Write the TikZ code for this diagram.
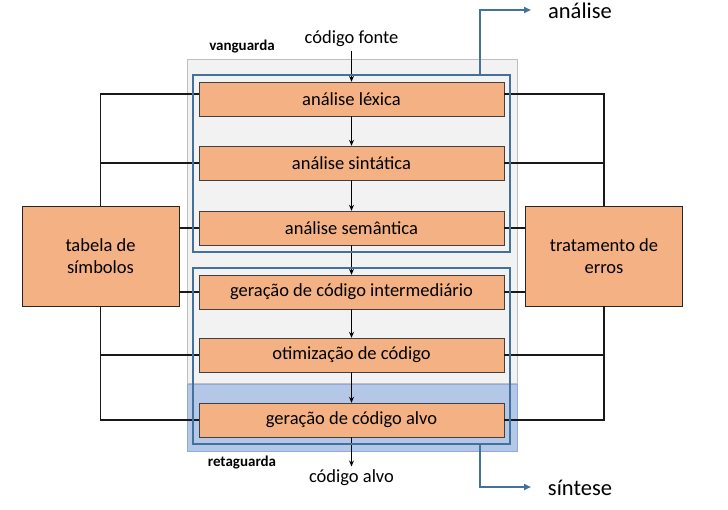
\documentclass[tikz,border=0pt]{standalone}
\usepackage{fontspec}
\setmainfont{Carlito}
\usepackage{xcolor}
\usetikzlibrary{arrows.meta,positioning,calc,fit}

\definecolor{faselaranja}{HTML}{F4B183}
\definecolor{quadroazul}{HTML}{41719C}
\definecolor{fundoazul}{HTML}{B4C7E7}
\definecolor{bordaazul}{HTML}{8FAADC}
\definecolor{fundocinza}{HTML}{F2F2F2}
\definecolor{bordacinza}{HTML}{BFBFBF}

\begin{document}
\begin{tikzpicture}[
    x=1pt,y=-1pt,
    font=\fontsize{18.5}{22}\selectfont,
    fase/.style={draw=black!75,fill=faselaranja,minimum width=305pt,minimum height=34pt,inner sep=0pt},
    lateral/.style={draw=black!85,fill=faselaranja,minimum width=157pt,minimum height=100pt,align=center,inner sep=0pt},
    fluxo/.style={-{Stealth[length=6pt,width=5pt]},line width=1pt,black},
    liga/.style={line width=1.1pt,black!90},
    quadro/.style={draw=quadroazul,line width=1.8pt,inner xsep=5.5pt,inner ysep=6.5pt},
    saida/.style={quadroazul,line width=1.8pt,-{Triangle[length=7pt,width=6pt]}},
    rotulo/.style={font=\bfseries\fontsize{15}{18}\selectfont},
    grande/.style={font=\fontsize{22.5}{26}\selectfont},
]
    \path[use as bounding box] (0,0) rectangle (728,509);
    \filldraw[fill=fundocinza,draw=bordacinza,line width=1pt] (187,59) rectangle (517,383);
    \filldraw[fill=fundoazul,draw=bordaazul,line width=1pt] (187,384) rectangle (517,451);

    % fases
    \node[fase] (lex) at (351.5,99) {análise léxica};
    \node[fase] (sin) at (351.5,163) {análise sintática};
    \node[fase] (sem) at (351.5,228) {análise semântica};
    \node[fase] (int) at (351.5,292) {geração de código intermediário};
    \node[fase] (oti) at (351.5,355) {otimização de código};
    \node[fase] (alv) at (351.5,420) {geração de código alvo};

    \node[lateral] (tab) at (100.5,256) {tabela de\\símbolos};
    \node[lateral] (err) at (604,256) {tratamento de\\erros};

    \node (fonte) at (351.5,39) {código fonte};
    \node (alvo) at (351.5,478) {código alvo};
    \node[rotulo] (vang) at (242,47) {vanguarda};
    \node[rotulo] (ret) at (242,463) {retaguarda};

    % fluxo principal
    \draw[fluxo] (fonte) -- (lex);
    \draw[fluxo] (lex) -- (sin);
    \draw[fluxo] (sin) -- (sem);
    \draw[fluxo] (sem) -- (int);
    \draw[fluxo] (int) -- (oti);
    \draw[fluxo] (oti) -- (alv);
    \draw[fluxo] (alv) -- (alvo);

    % ligacoes laterais
    \draw[liga] (tab.north) |- ([yshift=5pt]lex.west);
    \draw[liga] (tab.north |- sin.west) -- (sin.west);
    \draw[liga] (tab.east |- sem.west) -- (sem.west);
    \draw[liga] (tab.east |- int.west) -- (int.west);
    \draw[liga] (tab.south |- oti.west) -- (oti.west);
    \draw[liga] (tab.south) |- (alv.west);
    \draw[liga] (err.north) |- ([yshift=5pt]lex.east);
    \draw[liga] (err.north |- sin.east) -- (sin.east);
    \draw[liga] (err.west |- sem.east) -- (sem.east);
    \draw[liga] (err.west |- int.east) -- (int.east);
    \draw[liga] (err.south |- oti.east) -- (oti.east);
    \draw[liga] (err.south) |- (alv.east);

    % analise e sintese
    \node[quadro,fit=(lex)(sem)] (ana) {};
    \node[quadro,fit=(int)(alv)] (sint) {};
    \node[grande] (lblana) at (580,11) {análise};
    \node[grande] (lblsin) at (580,488) {síntese};
    \coordinate (fimana) at (531,10);
    \coordinate (fimsin) at (531,487);
    \draw[saida] ([xshift=-31pt]ana.north east) |- (fimana);
    \draw[saida] ([xshift=-31pt]sint.south east) |- (fimsin);
\end{tikzpicture}
\end{document}
